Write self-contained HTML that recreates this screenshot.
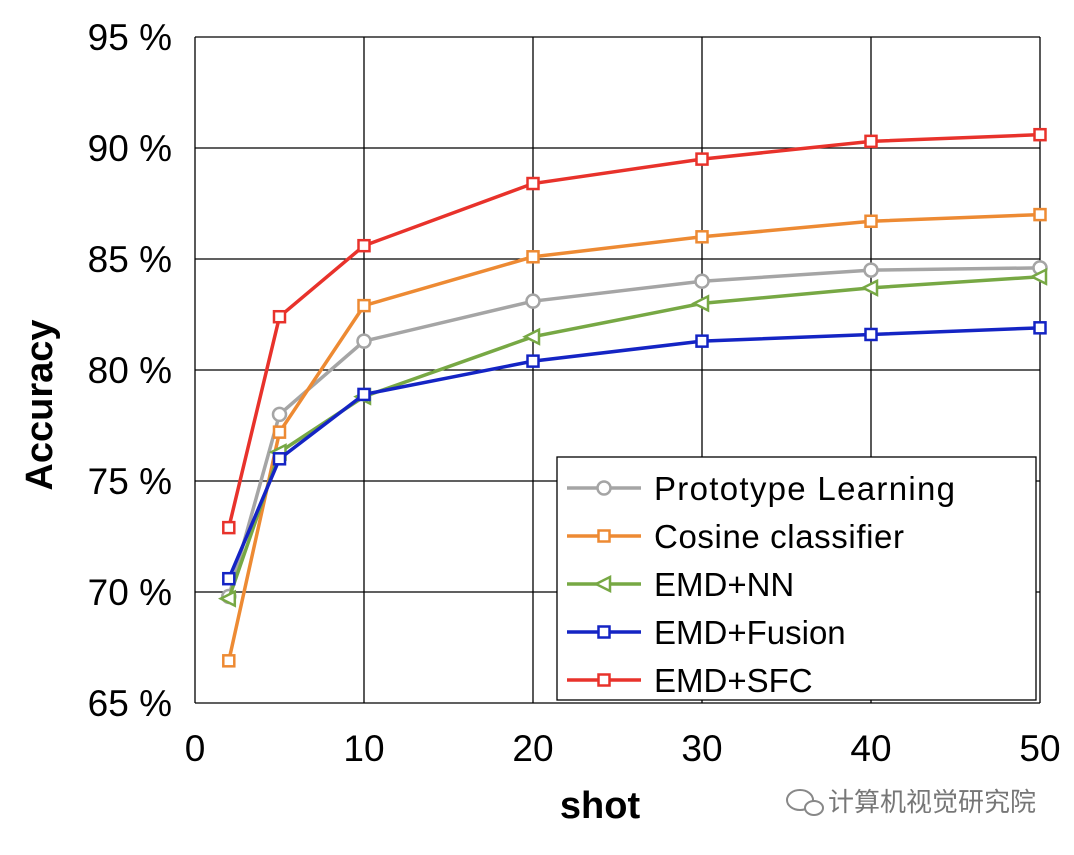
<!DOCTYPE html>
<html><head><meta charset="utf-8"><style>
body{margin:0;background:#fff;width:1074px;height:850px;overflow:hidden}
text{font-family:"Liberation Sans","Noto Sans CJK SC",sans-serif}
</style></head><body>
<svg id="c" width="1074" height="850"></svg>
<script>
const shots=[2,5,10,20,30,40,50];
const proto=[69.8,78.0,81.3,83.1,84.0,84.5,84.6];
const cosine=[66.9,77.2,82.9,85.1,86.0,86.7,87.0];
const emdnn=[69.7,76.3,78.8,81.5,83.0,83.7,84.2];
const fusion=[70.6,76.0,78.9,80.4,81.3,81.6,81.9];
const sfc=[72.9,82.4,85.6,88.4,89.5,90.3,90.6];
const xTicks=[0,10,20,30,40,50];
const yTicks=[65,70,75,80,85,90,95];
const NS="http://www.w3.org/2000/svg";
const svg=document.getElementById('c');
const X0=195,X1=1040,Y0=703,Y1=37;
const sx=v=>X0+(v-0)/(50-0)*(X1-X0);
const sy=v=>Y0-(v-65)/(95-65)*(Y0-Y1);
function mk(t,a,p){const e=document.createElementNS(NS,t);for(const k in a)e.setAttribute(k,a[k]);(p||svg).appendChild(e);return e;}
for(const t of yTicks){
 const l=mk('line',{x1:X0,x2:X1,y1:sy(t),y2:sy(t),stroke:'#000','stroke-width':1.3});
 
 
 const tx=mk('text',{x:172,y:sy(t)+13,'text-anchor':'end','font-size':37,fill:'#000'});tx.textContent=t+' %';
 
 
}
for(const t of xTicks){
 const l=mk('line',{x1:sx(t),x2:sx(t),y1:Y1,y2:Y0,stroke:'#000','stroke-width':1.3});
 
 
 const tx=mk('text',{x:sx(t),y:761,'text-anchor':'middle','font-size':37,fill:'#000'});tx.textContent=t;
 
 
}
let ax=mk('text',{x:0,y:0,transform:'translate(52,405) rotate(-90)','text-anchor':'middle','font-size':38,'font-weight':'bold'});ax.textContent='Accuracy';


ax=mk('text',{x:600,y:818,'text-anchor':'middle','font-size':38,'font-weight':'bold'});ax.textContent='shot';


function marker(g,type,x,y,c){
 if(type==='o')mk('circle',{cx:x,cy:y,r:6.5,fill:'#fff',stroke:c,'stroke-width':2.5},g);
 else if(type==='s')mk('rect',{x:x-5.5,y:y-5.5,width:11,height:11,fill:'#fff',stroke:c,'stroke-width':2.5},g);
 else mk('polygon',{points:`${x-8},${y} ${x+6},${y-7} ${x+6},${y+7}`,fill:'#fff',stroke:c,'stroke-width':2.5},g);
}
const series=[[proto,'#a5a5a5','o','Prototype Learning','series-prototype-learning'],[cosine,'#ed8a33','s','Cosine classifier','series-cosine-classifier'],[emdnn,'#77a844','t','EMD+NN','series-emd-nn'],[fusion,'#1424c4','s','EMD+Fusion','series-emd-fusion'],[sfc,'#e8322b','s','EMD+SFC','series-emd-sfc']];
for(const [d,c,m,n,name] of series){
 const g=mk('g',{});
 
 
 mk('polyline',{points:d.map((v,i)=>sx(shots[i])+','+sy(v)).join(' '),fill:'none',stroke:c,'stroke-width':3.5},g);
 d.forEach((v,i)=>marker(g,m,sx(shots[i]),sy(v),c));
}
const lg=mk('g',{});


mk('rect',{x:557,y:457,width:479,height:243,fill:'#fff',stroke:'#000','stroke-width':1.3},lg);
series.forEach(([d,c,m,n],i)=>{
 const y=488+i*48;
 const e=mk('g',{},lg);
 
 
 mk('line',{x1:567,x2:641,y1:y,y2:y,stroke:c,'stroke-width':3.5},e);
 marker(e,m,604,y,c);
 const t=mk('text',{x:654,y:y+12,'font-size':33,textLength:n.length>12?300:undefined},e);t.textContent=n;
 if(n==='Prototype Learning'){t.setAttribute('textLength','301');}
 if(n==='Cosine classifier'){t.setAttribute('textLength','250');}
});
const wm=mk('g',{});


mk('ellipse',{cx:800,cy:800,rx:13,ry:10,fill:'none',stroke:'#888','stroke-width':2},wm);
mk('ellipse',{cx:814,cy:808,rx:9,ry:7,fill:'#fff',stroke:'#888','stroke-width':2},wm);
const wt=mk('text',{x:828,y:811,'font-size':26,fill:'#777'},wm);wt.textContent='计算机视觉研究院';
</script>
</body></html>
